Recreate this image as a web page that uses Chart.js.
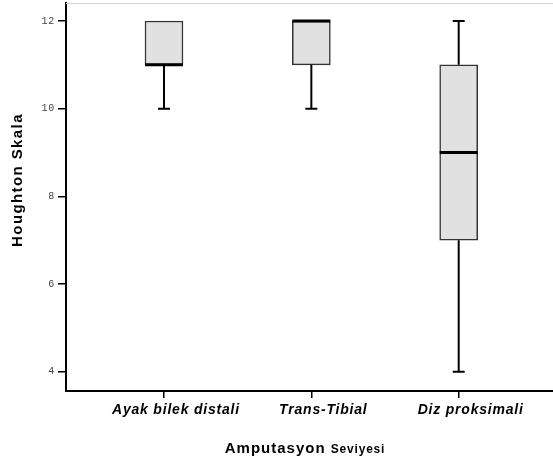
<!DOCTYPE html>
<html>
<head>
<meta charset="utf-8">
<script src="https://cdn.jsdelivr.net/npm/chart.js@4"></script>
<style>
    html, body { margin: 0; padding: 0; background: #fff; }
    #wrap { width: 553px; height: 465px; }
</style>
</head>
<body>
<div id="wrap"><canvas id="boxChart"></canvas></div>
<script>
// Datos del diagrama de caja
const categories = ['Ayak bilek distali', 'Trans-Tibial', 'Diz proksimali'];
const minValues = [10, 10, 4];
const q1Values = [11, 11, 7];
const medianValues = [11, 12, 9];
const q3Values = [12, 12, 11];
const maxValues = [12, 12, 12];
const yTicks = [4, 6, 8, 10, 12];

// Bigotes, medianas, borde superior y títulos de ejes
const boxPlugin = {
    id: 'boxPlugin',
    beforeDraw(chart) {
        chart.ctx.letterSpacing = '0.8px';
    },
    afterDatasetsDraw(chart) {
        const { ctx, scales: { x, y }, chartArea } = chart;
        ctx.save();
        ctx.strokeStyle = '#d4d4d4';
        ctx.lineWidth = 1;
        ctx.beginPath();
        ctx.moveTo(chartArea.left, chartArea.top + 0.5);
        ctx.lineTo(chartArea.right, chartArea.top + 0.5);
        ctx.stroke();

        categories.forEach((c, i) => {
            const cx = x.getPixelForValue(i + 1);
            const half = 19, cap = 6;
            ctx.strokeStyle = '#000';
            ctx.lineWidth = 2;
            if (minValues[i] < q1Values[i]) {
                const y0 = y.getPixelForValue(q1Values[i]);
                const y1 = y.getPixelForValue(minValues[i]);
                ctx.beginPath();
                ctx.moveTo(cx, y0); ctx.lineTo(cx, y1);
                ctx.moveTo(cx - cap, y1); ctx.lineTo(cx + cap, y1);
                ctx.stroke();
            }
            if (maxValues[i] > q3Values[i]) {
                const y0 = y.getPixelForValue(q3Values[i]);
                const y1 = y.getPixelForValue(maxValues[i]);
                ctx.beginPath();
                ctx.moveTo(cx, y0); ctx.lineTo(cx, y1);
                ctx.moveTo(cx - cap, y1); ctx.lineTo(cx + cap, y1);
                ctx.stroke();
            }
            const ym = y.getPixelForValue(medianValues[i]);
            ctx.lineWidth = 3;
            ctx.beginPath();
            ctx.moveTo(cx - half, ym); ctx.lineTo(cx + half, ym);
            ctx.stroke();
        });
        ctx.restore();
    },
    afterDraw(chart) {
        const ctx = chart.ctx;
        ctx.save();
        ctx.fillStyle = '#000';
        // Título eje Y
        ctx.translate(18, 180);
        ctx.rotate(-Math.PI / 2);
        ctx.font = 'bold 15px "Liberation Sans", Arial, sans-serif';
        ctx.letterSpacing = '1.4px';
        ctx.textAlign = 'center';
        ctx.textBaseline = 'middle';
        ctx.fillText('Houghton Skala', 0, 0);
        ctx.restore();

        // Título eje X con dos tamaños
        ctx.save();
        ctx.fillStyle = '#000';
        ctx.textBaseline = 'alphabetic';
        ctx.textAlign = 'left';
        const font1 = 'bold 15px "Liberation Sans", Arial, sans-serif';
        const font2 = 'bold 12px "Liberation Sans", Arial, sans-serif';
        const part1 = 'Amputasyon ';
        const part2 = 'Seviyesi';
        ctx.font = font1;
        ctx.letterSpacing = '1px';
        const w1 = ctx.measureText(part1).width;
        ctx.font = font2;
        ctx.letterSpacing = '0.8px';
        const w2 = ctx.measureText(part2).width;
        const startX = 305 - (w1 + w2) / 2;
        ctx.font = font1;
        ctx.letterSpacing = '1px';
        ctx.fillText(part1, startX, 453);
        ctx.font = font2;
        ctx.letterSpacing = '0.8px';
        ctx.fillText(part2, startX + w1, 453);
        ctx.restore();
    }
};

const ctx = document.getElementById('boxChart').getContext('2d');
new Chart(ctx, {
    type: 'bar',
    data: {
        datasets: [{
            data: categories.map((c, i) => ({ x: i + 1, y: [q1Values[i], q3Values[i]] })),
            backgroundColor: '#e1e1e1',
            borderColor: '#333',
            borderWidth: 1.5,
            borderSkipped: false,
            barThickness: 38
        }]
    },
    options: {
        responsive: true,
        maintainAspectRatio: false,
        animation: false,
        layout: { padding: { top: 3, right: 0, left: 0, bottom: 0 } },
        plugins: { legend: { display: false }, tooltip: { enabled: false } },
        scales: {
            x: {
                type: 'linear',
                offset: false,
                min: 0.335,
                max: 3.64,
                afterBuildTicks: (scale) => { scale.ticks = categories.map((c, i) => ({ value: i + 1 })); },
                afterFit: (scale) => {
                    scale.height = 74;
                    scale.paddingLeft = 0;
                    scale.paddingRight = 0;
                },
                ticks: {
                    callback: (v) => categories[v - 1],
                    autoSkip: false,
                    maxRotation: 0,
                    padding: 4,
                    labelOffset: 12,
                    color: '#000',
                    font: { family: '"Liberation Sans", Arial, sans-serif', size: 14, weight: 'bold', style: 'italic' }
                },
                grid: { offset: false, drawOnChartArea: false, drawTicks: true, tickLength: 7, color: '#000', lineWidth: 1.5 },
                border: { color: '#000', width: 2 }
            },
            y: {
                min: 3.56,
                max: 12.41,
                afterBuildTicks: (scale) => { scale.ticks = yTicks.map(v => ({ value: v })); },
                afterFit: (scale) => {
                    scale.width = 66;
                    scale.paddingTop = 0;
                    scale.paddingBottom = 0;
                },
                ticks: {
                    padding: 3,
                    color: '#444',
                    font: { family: '"Liberation Mono", "DejaVu Sans Mono", monospace', size: 10 }
                },
                grid: { drawOnChartArea: false, drawTicks: true, tickLength: 8, color: '#000', lineWidth: 1.5 },
                border: { color: '#000', width: 2 }
            }
        }
    },
    plugins: [boxPlugin]
});
</script>
</body>
</html>
